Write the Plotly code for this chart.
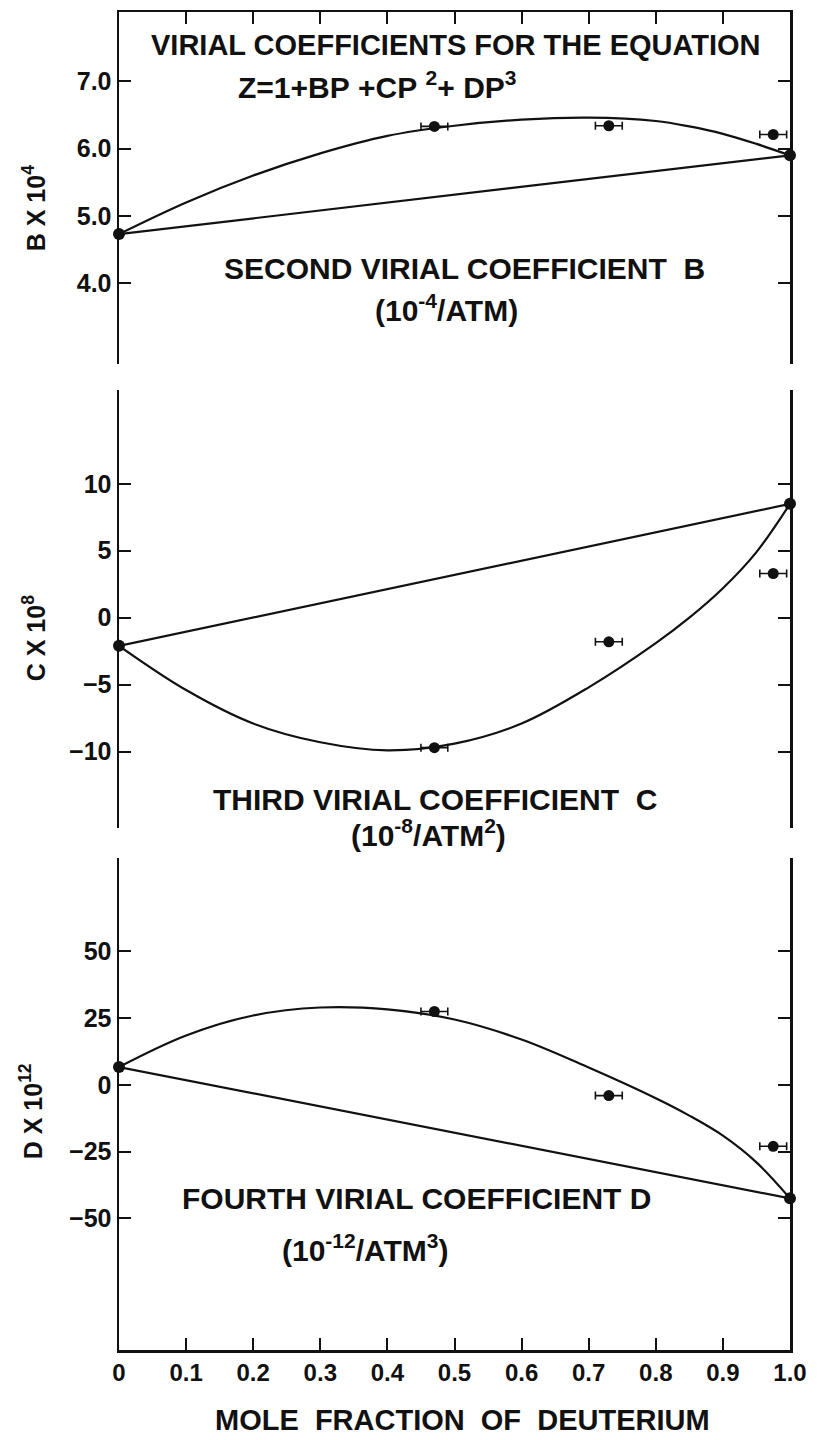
import plotly.graph_objects as go

# ---------------- data ----------------
x_exp = [0.47, 0.73, 0.975]
x_err = [0.02, 0.02, 0.02]
B_exp = [6.33, 6.34, 6.21]
C_exp = [-9.7, -1.8, 3.3]
D_exp = [27.5, -4.0, -23.0]

x_pure = [0.0, 1.0]
B_pure = [4.73, 5.90]
C_pure = [-2.1, 8.5]
D_pure = [6.7, -42.5]

x_curve = [0.0, 0.1, 0.2, 0.3, 0.4, 0.5, 0.6, 0.7, 0.8, 0.85, 0.9, 0.95, 1.0]
B_curve = [4.73, 5.20, 5.60, 5.93, 6.19, 6.34, 6.43, 6.46, 6.41, 6.33, 6.22, 6.07, 5.90]
C_curve = [-2.1, -5.4, -7.9, -9.3, -9.9, -9.4, -7.9, -5.2, -1.9, 0.0, 2.2, 4.9, 8.5]
D_curve = [6.7, 18.5, 26.0, 29.0, 28.3, 24.5, 17.0, 6.5, -5.0, -11.5, -19.0, -29.0, -42.5]

x_ticks = [0.0, 0.1, 0.2, 0.3, 0.4, 0.5, 0.6, 0.7, 0.8, 0.9, 1.0]
x_ticktext = ["0", "0.1", "0.2", "0.3", "0.4", "0.5", "0.6", "0.7", "0.8", "0.9", "1.0"]
B_ticks = [4, 5, 6, 7]
B_ticktext = ["4.0", "5.0", "6.0", "7.0"]
C_ticks = [-10, -5, 0, 5, 10]
D_ticks = [-50, -25, 0, 25, 50]

# ---------------- figure ----------------
W, H = 819, 1440
ML, MR, MT, MB = 119, 19, 12, 90
FONT = "Liberation Sans"
BLACK = "#111111"

fig = go.Figure()

panels = [("x", "y", B_curve, B_pure, B_exp),
          ("x2", "y2", C_curve, C_pure, C_exp),
          ("x3", "y3", D_curve, D_pure, D_exp)]

for xa, ya, curve, pure, exp in panels:
    fig.add_trace(go.Scatter(x=x_curve, y=curve, mode="lines", xaxis=xa, yaxis=ya,
                             line=dict(color=BLACK, width=2.2, shape="spline", smoothing=1.0),
                             cliponaxis=False, hoverinfo="skip"))
    fig.add_trace(go.Scatter(x=x_pure, y=pure, mode="lines+markers", xaxis=xa, yaxis=ya,
                             line=dict(color=BLACK, width=2.2),
                             marker=dict(color=BLACK, size=12),
                             cliponaxis=False))
    fig.add_trace(go.Scatter(x=x_exp, y=exp, mode="markers", xaxis=xa, yaxis=ya,
                             marker=dict(color=BLACK, size=11),
                             error_x=dict(type="data", array=x_err, color=BLACK,
                                          thickness=1.6, width=4),
                             cliponaxis=False))

ytickfont = dict(family=FONT, size=25, color=BLACK, weight="bold")
xtickfont = dict(family=FONT, size=24, color=BLACK, weight="bold")

common_y = dict(showline=True, linewidth=2.5, linecolor=BLACK, mirror="ticks",
                ticks="inside", ticklen=12, tickwidth=2, tickcolor=BLACK,
                showgrid=False, zeroline=False, tickfont=ytickfont)
common_x = dict(range=[0, 1], showgrid=False, zeroline=False)

def py(px):
    return (H - MB - px) / (H - MB - MT)

def pxx(px):
    return (px - ML) / (W - ML - MR)

fig.update_layout(
    width=W, height=H,
    margin=dict(l=ML, r=MR, t=MT, b=MB),
    paper_bgcolor="white", plot_bgcolor="white",
    showlegend=False,
    xaxis=dict(domain=[0, 1], anchor="y", side="top", showline=True, linewidth=2.5,
               linecolor=BLACK, ticks="inside", ticklen=12, tickwidth=2, tickcolor=BLACK,
               tickvals=x_ticks[1:-1], showticklabels=False, **common_x),
    yaxis=dict(domain=[py(364), 1.0], anchor="x", range=[2.80, 8.03],
               tickvals=B_ticks, ticktext=B_ticktext, **common_y),
    xaxis2=dict(domain=[0, 1], anchor="y2", visible=False, **common_x),
    yaxis2=dict(domain=[py(828), py(390)], anchor="x2", range=[-15.7, 17.0],
                tickvals=C_ticks, **common_y),
    xaxis3=dict(domain=[0, 1], anchor="y3", side="bottom", showline=True, linewidth=2.5,
                linecolor=BLACK, ticks="inside", ticklen=12, tickwidth=2, tickcolor=BLACK,
                tickvals=x_ticks, ticktext=x_ticktext, tickfont=xtickfont, **common_x),
    yaxis3=dict(domain=[0, py(858)], anchor="x3", range=[-99.3, 85],
                tickvals=D_ticks, **common_y),
)

NB = "\u00a0"
annots = [
    ("VIRIAL COEFFICIENTS FOR THE EQUATION", 461, 45, 29, "center", 0),
    ("Z=1+BP" + NB + "+CP" + NB + "<sup>2</sup>+" + NB + "DP<sup>3</sup>", 238, 85, 30, "left", 0),
    ("SECOND VIRIAL COEFFICIENT" + NB + NB + "B", 470, 269, 30, "center", 0),
    ("(10<sup>-4</sup>/ATM)", 451, 308, 30, "center", 0),
    ("THIRD VIRIAL COEFFICIENT" + NB + NB + "C", 440, 799, 30, "center", 0),
    ("(10<sup>-8</sup>/ATM<sup>2</sup>)", 433, 833, 30, "center", 0),
    ("FOURTH" + NB + "VIRIAL COEFFICIENT" + NB + "D", 421, 1198, 30, "center", 0),
    ("(10<sup>-12</sup>/ATM<sup>3</sup>)", 369, 1248, 30, "center", 0),
    ("MOLE" + NB + NB + "FRACTION" + NB + NB + "OF" + NB + NB + "DEUTERIUM", 468, 1420, 29, "center", 0),
    ("B X 10<sup>4</sup>", 33, 208, 25, "center", -90),
    ("C X 10<sup>8</sup>", 33, 638, 25, "center", -90),
    ("D X 10<sup>12</sup>", 30, 1111, 25, "center", -90),
]
for text, x, y, size, anchor, angle in annots:
    fig.add_annotation(text=text, x=pxx(x), y=py(y), xref="paper", yref="paper",
                       xanchor=anchor, yanchor="middle", showarrow=False, textangle=angle,
                       font=dict(family=FONT, size=size, color=BLACK, weight="bold"))

# remove the browser's default 8px page margin so the figure sits at (0, 0)
fig.write_html("out.html",
               config={"displayModeBar": False, "staticPlot": True},
               post_script="document.body.style.margin='0';document.body.style.overflow='hidden';")
